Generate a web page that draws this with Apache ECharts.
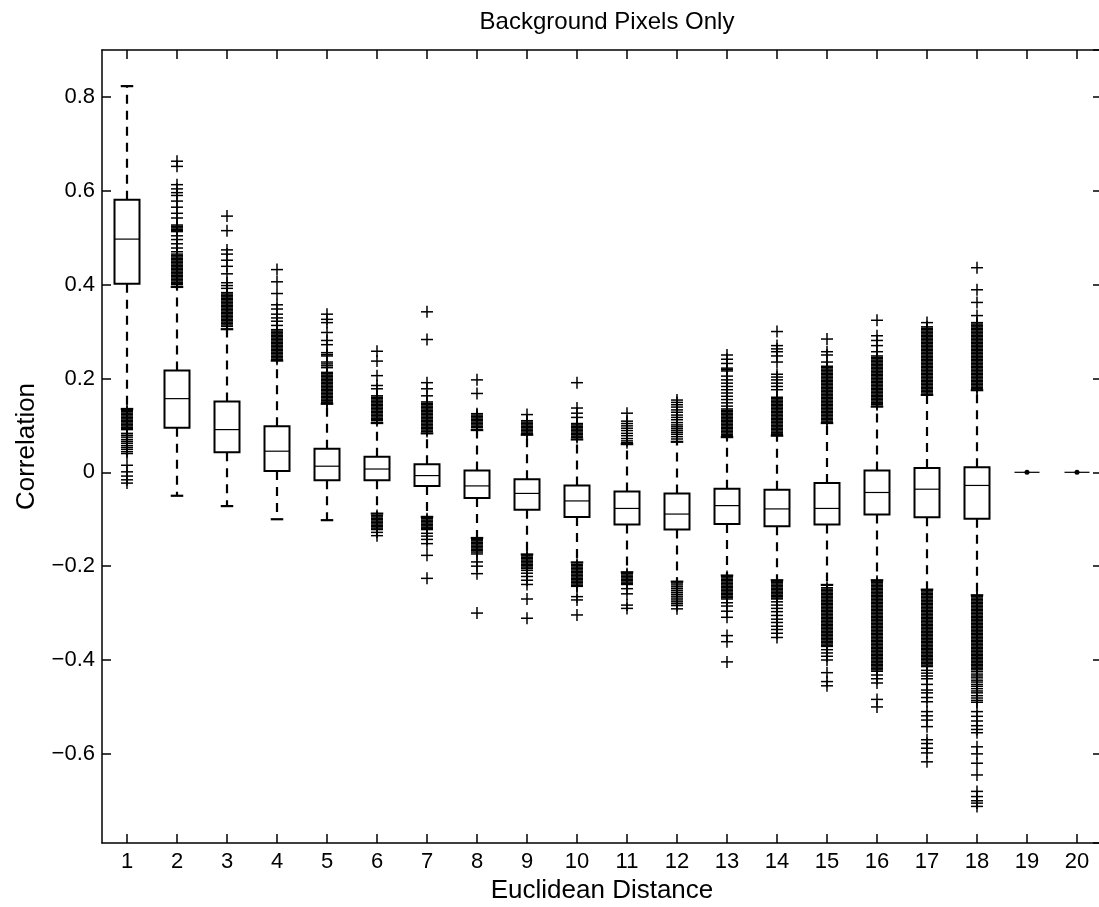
<!DOCTYPE html>
<html><head><meta charset="utf-8">
<script src="https://cdn.jsdelivr.net/npm/echarts@6/dist/echarts.min.js"></script>
<style>html,body{margin:0;padding:0;background:#fff}#c{width:1099px;height:907px}</style>
</head><body><div id="c"></div>
<script>
const categories = ['1','2','3','4','5','6','7','8','9','10','11','12','13','14','15','16','17','18','19','20'];
const whiskerLow  = [0.135,-0.050,-0.072,-0.100,-0.102,-0.088,-0.095,-0.140,-0.175,-0.192,-0.213,-0.233,-0.220,-0.230,-0.240,-0.230,-0.250,-0.262,0,0];
const q1          = [0.402, 0.095, 0.043, 0.003,-0.017,-0.017,-0.029,-0.055,-0.080,-0.095,-0.111,-0.122,-0.110,-0.115,-0.111,-0.090,-0.096,-0.099,0,0];
const median      = [0.497, 0.157, 0.091, 0.045, 0.013, 0.007,-0.007,-0.029,-0.045,-0.061,-0.077,-0.089,-0.071,-0.078,-0.077,-0.043,-0.036,-0.028,0,0];
const q3          = [0.581, 0.217, 0.151, 0.098, 0.050, 0.033, 0.017, 0.004,-0.015,-0.028,-0.041,-0.045,-0.035,-0.037,-0.023, 0.004, 0.009, 0.011,0,0];
const whiskerHigh = [0.823, 0.395, 0.305, 0.238, 0.146, 0.105, 0.083, 0.090, 0.080, 0.070, 0.060, 0.065, 0.075, 0.078, 0.105, 0.140, 0.165, 0.175,0,0];
const outliers = [
 [0.132,0.129,0.126,0.123,0.12,0.117,0.114,0.111,0.108,0.105,0.102,0.099,0.096,0.093,0.091,0.083,0.079,0.075,0.07,0.066,0.062,0.057,0.053,0.049,0.044,0.04,0.015,0.001,-0.008,-0.016,-0.023],
 [0.663,0.652,0.613,0.604,0.596,0.59,0.578,0.565,0.552,0.542,0.527,0.524,0.521,0.518,0.515,0.513,0.504,0.496,0.487,0.478,0.47,0.465,0.462,0.459,0.456,0.453,0.45,0.447,0.444,0.441,0.438,0.435,0.432,0.429,0.426,0.423,0.42,0.417,0.414,0.411,0.408,0.405,0.402,0.4],
 [0.546,0.515,0.474,0.465,0.452,0.439,0.423,0.404,0.398,0.392,0.383,0.38,0.377,0.374,0.371,0.368,0.365,0.362,0.359,0.356,0.353,0.35,0.347,0.344,0.341,0.338,0.335,0.332,0.329,0.326,0.323,0.32,0.317,0.314,0.311],
 [0.432,0.406,0.381,0.357,0.348,0.337,0.329,0.322,0.313,0.304,0.301,0.298,0.295,0.292,0.289,0.286,0.283,0.28,0.277,0.274,0.271,0.268,0.265,0.262,0.259,0.256,0.253,0.25,0.247,0.244,0.241],
 [0.337,0.326,0.319,0.298,0.281,0.272,0.255,0.251,0.248,0.235,0.231,0.227,0.223,0.213,0.21,0.207,0.204,0.201,0.198,0.195,0.192,0.189,0.186,0.183,0.18,0.177,0.174,0.171,0.168,0.165,0.162,0.159,0.156,0.153,0.15,0.148],
 [0.258,0.237,0.206,0.185,0.178,0.163,0.16,0.157,0.154,0.151,0.148,0.145,0.142,0.139,0.136,0.133,0.13,0.127,0.124,0.121,0.118,0.115,0.112,0.11,-0.092,-0.095,-0.098,-0.101,-0.104,-0.107,-0.11,-0.113,-0.116,-0.119,-0.122,-0.128,-0.135],
 [0.342,0.283,0.191,0.178,0.163,0.15,0.147,0.144,0.141,0.138,0.135,0.132,0.129,0.126,0.123,0.12,0.117,0.114,0.111,0.108,0.105,0.102,0.099,0.096,0.093,0.09,0.087,-0.099,-0.102,-0.105,-0.108,-0.111,-0.114,-0.117,-0.12,-0.122,-0.13,-0.136,-0.143,-0.152,-0.177,-0.226],
 [0.197,0.168,0.125,0.122,0.119,0.116,0.113,0.11,0.107,0.104,0.101,0.098,0.095,-0.143,-0.146,-0.149,-0.152,-0.155,-0.158,-0.161,-0.164,-0.167,-0.17,-0.174,-0.191,-0.2,-0.216,-0.3],
 [0.123,0.11,0.107,0.104,0.101,0.098,0.095,0.092,0.089,0.086,0.083,-0.178,-0.181,-0.184,-0.187,-0.19,-0.193,-0.196,-0.199,-0.202,-0.205,-0.209,-0.215,-0.222,-0.23,-0.239,-0.27,-0.311],
 [0.191,0.137,0.126,0.117,0.104,0.101,0.098,0.095,0.092,0.089,0.086,0.083,0.08,0.077,0.074,-0.196,-0.199,-0.202,-0.205,-0.208,-0.211,-0.214,-0.217,-0.22,-0.223,-0.226,-0.229,-0.232,-0.235,-0.238,-0.241,-0.243,-0.265,-0.272,-0.304],
 [0.126,0.109,0.104,0.099,0.094,0.089,0.083,0.078,0.072,0.067,0.063,-0.216,-0.219,-0.222,-0.225,-0.228,-0.231,-0.234,-0.237,-0.239,-0.248,-0.259,-0.283,-0.29],
 [0.154,0.149,0.144,0.139,0.133,0.128,0.122,0.117,0.112,0.106,0.101,0.097,0.093,0.089,0.085,0.081,0.076,0.071,-0.236,-0.24,-0.244,-0.248,-0.252,-0.256,-0.26,-0.264,-0.268,-0.272,-0.276,-0.28,-0.284,-0.291],
 [0.25,0.241,0.232,0.222,0.219,0.216,0.205,0.197,0.19,0.183,0.176,0.169,0.162,0.155,0.148,0.141,0.135,0.132,0.129,0.126,0.123,0.12,0.117,0.114,0.111,0.108,0.105,0.102,0.099,0.096,0.093,0.09,0.087,0.084,0.081,0.078,-0.222,-0.225,-0.228,-0.231,-0.234,-0.237,-0.24,-0.243,-0.246,-0.249,-0.252,-0.255,-0.258,-0.261,-0.264,-0.267,-0.27,-0.278,-0.285,-0.296,-0.309,-0.348,-0.361,-0.404],
 [0.3,0.27,0.263,0.257,0.248,0.235,0.209,0.203,0.197,0.19,0.183,0.176,0.16,0.157,0.154,0.151,0.148,0.145,0.142,0.139,0.136,0.133,0.13,0.127,0.124,0.121,0.118,0.115,0.112,0.109,0.106,0.103,0.1,0.097,0.094,0.091,0.088,0.085,0.082,0.08,-0.232,-0.235,-0.238,-0.241,-0.244,-0.247,-0.25,-0.253,-0.256,-0.259,-0.262,-0.265,-0.268,-0.27,-0.276,-0.283,-0.29,-0.297,-0.305,-0.313,-0.32,-0.328,-0.335,-0.343,-0.352],
 [0.284,0.257,0.25,0.235,0.226,0.223,0.22,0.217,0.214,0.211,0.208,0.205,0.202,0.199,0.196,0.193,0.19,0.187,0.184,0.181,0.178,0.175,0.172,0.169,0.166,0.163,0.16,0.157,0.154,0.151,0.148,0.145,0.142,0.139,0.136,0.133,0.13,0.127,0.124,0.121,0.118,0.115,0.112,0.109,-0.246,-0.249,-0.252,-0.255,-0.258,-0.261,-0.264,-0.267,-0.27,-0.273,-0.276,-0.279,-0.282,-0.285,-0.288,-0.291,-0.294,-0.297,-0.3,-0.303,-0.306,-0.309,-0.312,-0.315,-0.318,-0.321,-0.324,-0.327,-0.33,-0.333,-0.336,-0.339,-0.342,-0.345,-0.348,-0.351,-0.354,-0.357,-0.36,-0.363,-0.366,-0.369,-0.371,-0.378,-0.385,-0.392,-0.4,-0.427,-0.446,-0.455],
 [0.324,0.291,0.281,0.27,0.257,0.248,0.245,0.242,0.239,0.236,0.233,0.23,0.227,0.224,0.221,0.218,0.215,0.212,0.209,0.206,0.203,0.2,0.197,0.194,0.191,0.188,0.185,0.182,0.179,0.176,0.173,0.17,0.167,0.164,0.161,0.158,0.155,0.152,0.149,0.146,0.144,-0.232,-0.235,-0.238,-0.241,-0.244,-0.247,-0.25,-0.253,-0.256,-0.259,-0.262,-0.265,-0.268,-0.271,-0.274,-0.277,-0.28,-0.283,-0.286,-0.289,-0.292,-0.295,-0.298,-0.301,-0.304,-0.307,-0.31,-0.313,-0.316,-0.319,-0.322,-0.325,-0.328,-0.331,-0.334,-0.337,-0.34,-0.343,-0.346,-0.349,-0.352,-0.355,-0.358,-0.361,-0.364,-0.367,-0.37,-0.373,-0.376,-0.379,-0.382,-0.385,-0.388,-0.391,-0.394,-0.397,-0.4,-0.403,-0.406,-0.409,-0.412,-0.415,-0.418,-0.421,-0.424,-0.432,-0.44,-0.449,-0.484,-0.5],
 [0.319,0.31,0.307,0.304,0.301,0.298,0.295,0.292,0.289,0.286,0.283,0.28,0.277,0.274,0.271,0.268,0.265,0.262,0.259,0.256,0.253,0.25,0.247,0.244,0.241,0.238,0.235,0.232,0.229,0.226,0.223,0.22,0.217,0.214,0.211,0.208,0.205,0.202,0.199,0.196,0.193,0.19,0.187,0.184,0.181,0.178,0.175,0.172,0.169,-0.252,-0.255,-0.258,-0.261,-0.264,-0.267,-0.27,-0.273,-0.276,-0.279,-0.282,-0.285,-0.288,-0.291,-0.294,-0.297,-0.3,-0.303,-0.306,-0.309,-0.312,-0.315,-0.318,-0.321,-0.324,-0.327,-0.33,-0.333,-0.336,-0.339,-0.342,-0.345,-0.348,-0.351,-0.354,-0.357,-0.36,-0.363,-0.366,-0.369,-0.372,-0.375,-0.378,-0.381,-0.384,-0.387,-0.39,-0.393,-0.396,-0.399,-0.402,-0.405,-0.408,-0.411,-0.414,-0.422,-0.428,-0.434,-0.44,-0.452,-0.464,-0.47,-0.48,-0.489,-0.51,-0.519,-0.528,-0.542,-0.57,-0.578,-0.588,-0.598,-0.617],
 [0.436,0.389,0.362,0.334,0.319,0.316,0.313,0.31,0.307,0.304,0.301,0.298,0.295,0.292,0.289,0.286,0.283,0.28,0.277,0.274,0.271,0.268,0.265,0.262,0.259,0.256,0.253,0.25,0.247,0.244,0.241,0.238,0.235,0.232,0.229,0.226,0.223,0.22,0.217,0.214,0.211,0.208,0.205,0.202,0.199,0.196,0.193,0.19,0.187,0.184,0.181,0.178,-0.265,-0.268,-0.271,-0.274,-0.277,-0.28,-0.283,-0.286,-0.289,-0.292,-0.295,-0.298,-0.301,-0.304,-0.307,-0.31,-0.313,-0.316,-0.319,-0.322,-0.325,-0.328,-0.331,-0.334,-0.337,-0.34,-0.343,-0.346,-0.349,-0.352,-0.355,-0.358,-0.361,-0.364,-0.367,-0.37,-0.373,-0.376,-0.379,-0.382,-0.385,-0.388,-0.391,-0.394,-0.397,-0.4,-0.403,-0.406,-0.409,-0.412,-0.415,-0.418,-0.421,-0.425,-0.43,-0.434,-0.438,-0.443,-0.447,-0.452,-0.456,-0.461,-0.466,-0.47,-0.476,-0.481,-0.486,-0.49,-0.51,-0.52,-0.53,-0.54,-0.548,-0.555,-0.585,-0.6,-0.62,-0.645,-0.68,-0.691,-0.7,-0.705,-0.712],
 [],
 []
];
const yTicks = [-0.6,-0.4,-0.2,0,0.2,0.4,0.6,0.8];

const FONT = 'Liberation Sans, Arial, Helvetica, sans-serif';
const boxData = categories.map((c, i) => [i, whiskerLow[i], q1[i], median[i], q3[i], whiskerHigh[i]]);
const outlierData = [];
outliers.forEach((arr, i) => arr.forEach(v => outlierData.push([i, v])));

function renderBox(params, api) {
  const x = api.value(0);
  const pLow = api.coord([x, api.value(1)]);
  const pQ1 = api.coord([x, api.value(2)]);
  const pMed = api.coord([x, api.value(3)]);
  const pQ3 = api.coord([x, api.value(4)]);
  const pHigh = api.coord([x, api.value(5)]);
  const band = api.size([1, 0])[0];
  const bw = band * 0.5, cw = band * 0.25;
  const cx = Math.round(pMed[0]);
  const ch = [];
  const dashed = { stroke: '#000', lineWidth: 2.2, lineDash: [9, 7], fill: null };
  const solid = { stroke: '#000', lineWidth: 2.2, fill: null };
  const degenerate = api.value(2) === api.value(4);
  if (pHigh[1] < pQ3[1]) ch.push({ type: 'line', shape: { x1: cx, y1: pQ3[1], x2: cx, y2: pHigh[1] }, style: dashed });
  if (pLow[1] > pQ1[1]) ch.push({ type: 'line', shape: { x1: cx, y1: pQ1[1], x2: cx, y2: pLow[1] }, style: dashed });
  if (!degenerate) {
    ch.push({ type: 'line', shape: { x1: cx - cw / 2, y1: pHigh[1], x2: cx + cw / 2, y2: pHigh[1] }, style: solid });
    ch.push({ type: 'line', shape: { x1: cx - cw / 2, y1: pLow[1], x2: cx + cw / 2, y2: pLow[1] }, style: solid });
    ch.push({ type: 'rect', shape: { x: cx - bw / 2, y: pQ3[1], width: bw, height: pQ1[1] - pQ3[1] }, style: { stroke: '#000', lineWidth: 2, fill: null } });
  }
  ch.push({ type: 'line', shape: { x1: cx - bw / 2, y1: pMed[1], x2: cx + bw / 2, y2: pMed[1] }, style: { stroke: '#000', lineWidth: 1.2 } });
  if (degenerate) {
    ch.push({ type: 'circle', shape: { cx: cx, cy: pMed[1], r: 2.5 }, style: { fill: '#000' } });
  }
  return { type: 'group', children: ch };
}

function renderPlus(params, api) {
  const p = api.coord([api.value(0), api.value(1)]);
  const h = 6;
  const st = { stroke: '#000', lineWidth: 1.5 };
  return {
    type: 'group', children: [
      { type: 'line', shape: { x1: p[0] - h, y1: p[1], x2: p[0] + h, y2: p[1] }, style: st },
      { type: 'line', shape: { x1: p[0], y1: p[1] - h, x2: p[0], y2: p[1] + h }, style: st }
    ]
  };
}

const fmtY = v => {
  const r = Math.round(v * 10) / 10;
  if (!yTicks.some(t => Math.abs(t - r) < 1e-9) || Math.abs(v - r) > 1e-6) return '';
  if (r === 0) return '0';
  return (r < 0 ? '\u2212' : '') + Math.abs(r).toFixed(1);
};

const axisLine = { show: true, onZero: false, lineStyle: { color: '#000', width: 1.5 } };
const axisTick = { show: true, inside: true, length: 9, lineStyle: { color: '#000', width: 1.5 } };

const chart = echarts.init(document.getElementById('c'), null, { renderer: 'canvas' });
chart.setOption({
  animation: false,
  backgroundColor: '#fff',
  title: {
    text: 'Background Pixels Only', left: 602, top: 5, textAlign: 'center',
    textStyle: { fontFamily: FONT, fontSize: 24, fontWeight: 'normal', color: '#000' }
  },
  grid: { left: 102, top: 50, width: 1000, height: 793, containLabel: false, outerBoundsMode: 'none' },
  xAxis: [
    {
      type: 'category', data: categories, position: 'bottom', boundaryGap: true,
      axisLine: axisLine, axisTick: Object.assign({ alignWithLabel: true }, axisTick),
      axisLabel: { color: '#000', fontFamily: FONT, fontSize: 22, margin: 8 },
      splitLine: { show: false },
      name: 'Euclidean Distance', nameLocation: 'middle', nameGap: 29,
      nameTextStyle: { color: '#000', fontFamily: FONT, fontSize: 26 }
    },
    {
      type: 'category', data: categories, position: 'top', boundaryGap: true,
      axisLine: axisLine, axisTick: Object.assign({ alignWithLabel: true }, axisTick),
      axisLabel: { show: false }, splitLine: { show: false }
    }
  ],
  yAxis: [
    {
      type: 'value', min: -0.79, max: 0.9, splitNumber: 8, position: 'left',
      axisLine: axisLine, axisTick: axisTick,
      axisLabel: { color: '#000', fontFamily: FONT, fontSize: 22, margin: 7, formatter: fmtY, showMinLabel: false, showMaxLabel: false },
      splitLine: { show: false },
      name: 'Correlation', nameLocation: 'middle', nameGap: 62, nameRotate: 90,
      nameTextStyle: { color: '#000', fontFamily: FONT, fontSize: 26 }
    },
    {
      type: 'value', min: -0.79, max: 0.9, splitNumber: 8, position: 'right',
      axisLine: axisLine, axisTick: axisTick,
      axisLabel: { show: false }, splitLine: { show: false }
    }
  ],
  series: [
    { type: 'custom', name: 'box', xAxisIndex: 0, yAxisIndex: 0, renderItem: renderBox, data: boxData, silent: true, z: 2 },
    { type: 'custom', name: 'outliers', xAxisIndex: 0, yAxisIndex: 0, renderItem: renderPlus, data: outlierData, silent: true, z: 3 }
  ]
});
</script>
</body></html>
